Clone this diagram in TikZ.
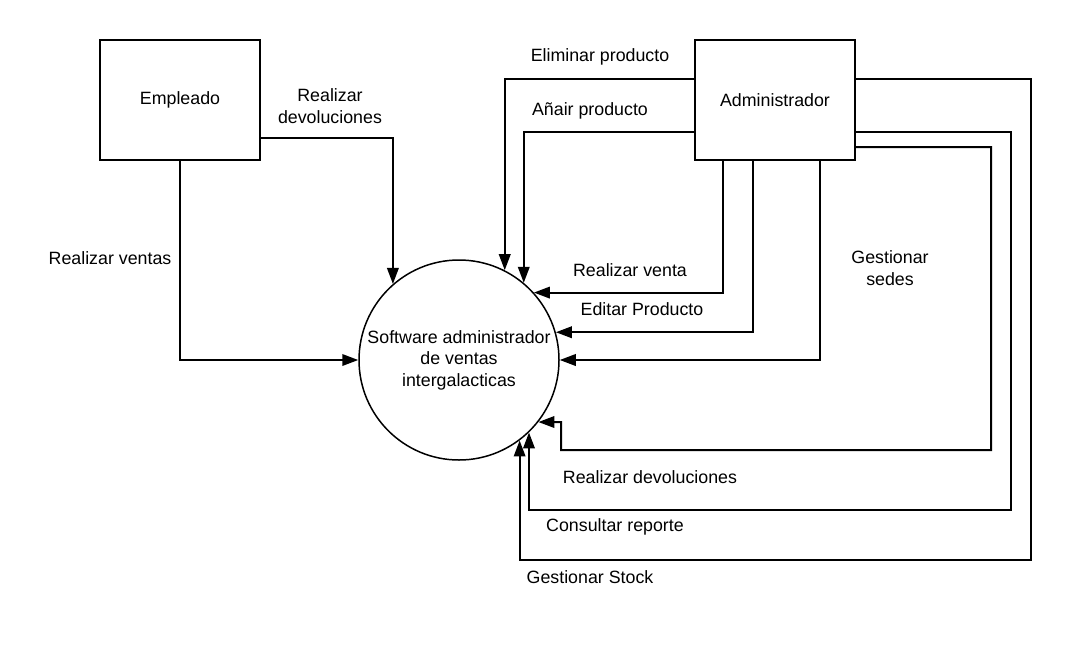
\documentclass[tikz,border=0pt]{standalone}
\usepackage{fontspec}
\setmainfont{Liberation Sans}
\usetikzlibrary{arrows.meta}
\begin{document}
\begin{tikzpicture}[x=1pt,y=-1pt,
  every node/.style={font=\fontsize{17.8}{21.5}\selectfont},
  actor/.style={draw,line width=2pt,minimum width=160pt,minimum height=120pt,inner sep=0pt},
  proc/.style={draw,circle,line width=1.5pt,minimum size=200pt,inner sep=0pt,align=center},
  flow/.style={line width=2pt,-{Triangle[length=16pt,width=11.5pt]}},
  lbl/.style={align=center,inner sep=0pt}]
\useasboundingbox (0,0) rectangle (1070,646);
\node[actor] (emp) at (180,100) {Empleado};
\node[actor] (adm) at (775,100) {Administrador};
\node[proc] (sys) at (459,360) {Software administrador\\de ventas\\intergalacticas};

\node[lbl] (l1) at (330,106) {Realizar\\devoluciones};
\node[lbl] (l2) at (110,258) {Realizar ventas};
\node[lbl] (l3) at (600,57) {Eliminar producto};
\node[lbl] (l4) at (590,111) {Añair producto};
\node[lbl] (l5) at (630,270) {Realizar venta};
\node[lbl] (l6) at (642,309) {Editar Producto};
\node[lbl] (l7) at (890,268) {Gestionar\\sedes};
\node[lbl] (l8) at (650,477) {Realizar devoluciones};
\node[lbl] (l9) at (615,527) {Consultar reporte};
\node[lbl] (l10) at (590,577) {Gestionar Stock};

\coordinate (c1) at (1031,560);
\coordinate (c2) at (1011,510);
\coordinate (c3) at (991,450);
\coordinate (c4) at (561,422);

\draw[flow] (emp.south) |- (sys.180);
\draw[flow] (emp.east |- 0,138) -| (sys.131.7);
\draw[flow] (adm.west |- 0,79) -| (sys.63.3);
\draw[flow] (adm.west |- 0,132) -| (sys.50.2);
\draw[flow] (adm.south -| 723,0) |- (sys.42.8);
\draw[flow] (adm.south -| 753,0) |- (sys.16.3);
\draw[flow] (adm.south -| 820,0) |- (sys.0);
\draw[flow] (adm.east |- 0,79) -| (c1) -| (sys.-53.8);
\draw[flow] (adm.east |- 0,132) -| (c2) -| (sys.-46.4);
\draw[flow] (adm.east |- 0,147) -| (c3) -| (c4) -- (sys.-38.3);
\end{tikzpicture}
\end{document}
